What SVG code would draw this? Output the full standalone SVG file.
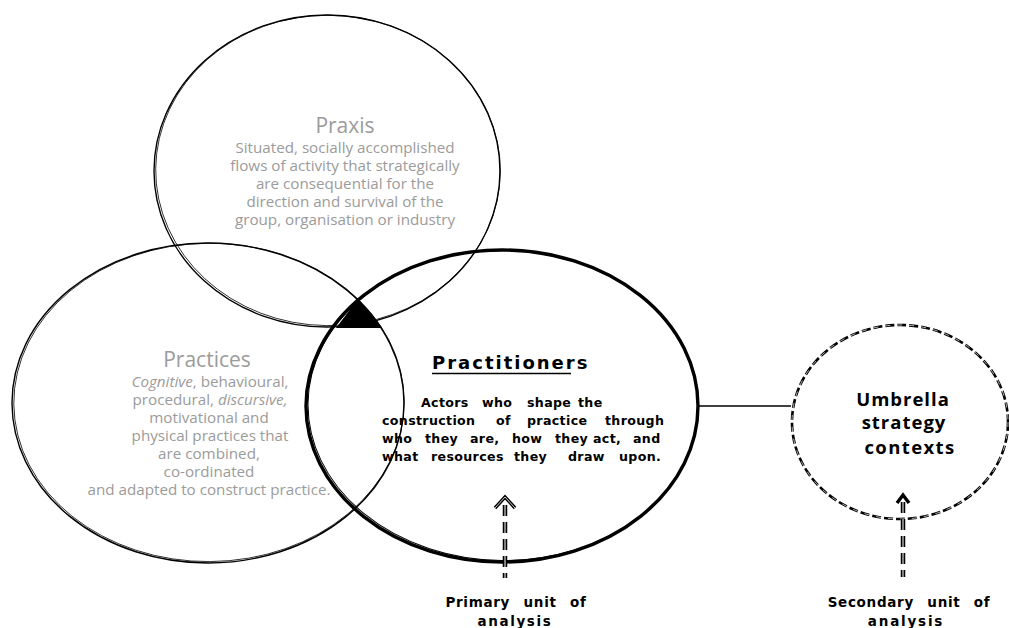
<svg xmlns="http://www.w3.org/2000/svg" width="1009" height="628" viewBox="0 0 1009 628">
  <style>
    .ring { fill: none; stroke: #000; }
    .thin { stroke-width: 1.4; }
    .thin2 { stroke-width: 0.8; }
    .grey { font-family: "Open Sans", "Liberation Sans", sans-serif; fill: #9b9b9b; text-anchor: middle; }
    .title { font-size: 21px; }
    .body { font-size: 15.2px; }
    .bold { font-family: "DejaVu Sans", "Verdana", sans-serif; font-weight: bold; fill: #000; }
    .desc { font-size: 12.6px; letter-spacing: 0.35px; }
    .label { font-family: "DejaVu Sans", "Verdana", sans-serif; font-weight: bold; fill: #000; text-anchor: middle; }
    .ctx { font-family: "Open Sans", "Liberation Sans", sans-serif; font-weight: bold; fill: #000; text-anchor: middle; font-size: 18.5px; }
    .dashline { fill: none; stroke: #000; stroke-width: 4.5; stroke-dasharray: 11 6; }
    .dashcore { fill: none; stroke: #fff; stroke-width: 1; stroke-dasharray: 11 6; }
    .head { fill: none; stroke: #000; stroke-width: 3.4; stroke-linejoin: miter; }
    .headcore { fill: none; stroke: #fff; stroke-width: 0.8; }
  </style>

  <rect width="1009" height="628" fill="#fff"/>

  <!-- Praxis -->
  <g id="praxis">
    <ellipse class="ring thin" cx="327" cy="171" rx="173" ry="156"/>
    <ellipse class="ring thin2" cx="328" cy="170.4" rx="172.3" ry="155.2" transform="rotate(0.6 327 171)"/>
    <text class="grey title" x="345" y="133">Praxis</text>
    <text class="grey body" x="345" y="153">Situated, socially accomplished</text>
    <text class="grey body" x="345" y="171">flows of activity that strategically</text>
    <text class="grey body" x="345" y="189">are consequential for the</text>
    <text class="grey body" x="345" y="207">direction and survival of the</text>
    <text class="grey body" x="345" y="225">group, organisation or industry</text>
  </g>

  <!-- Practices -->
  <g id="practices">
    <ellipse class="ring thin" cx="208" cy="403" rx="196" ry="160"/>
    <ellipse class="ring thin2" cx="209" cy="402.4" rx="195.2" ry="159.2" transform="rotate(-0.5 208 403)"/>
    <text class="grey title" x="207" y="367">Practices</text>
    <text class="grey body" x="210" y="387"><tspan font-style="italic">Cognitive</tspan>, behavioural,</text>
    <text class="grey body" x="210" y="405">procedural, <tspan font-style="italic">discursive,</tspan></text>
    <text class="grey body" x="209" y="423">motivational and</text>
    <text class="grey body" x="210" y="441">physical practices that</text>
    <text class="grey body" x="209" y="459">are combined,</text>
    <text class="grey body" x="209" y="477">co-ordinated</text>
    <text class="grey body" x="209" y="495">and adapted to construct practice.</text>
  </g>

  <!-- Practitioners -->
  <g id="practitioners">
    <ellipse class="ring" stroke-width="3.4" cx="502" cy="406" rx="196" ry="156"/>
    <ellipse class="ring" stroke-width="1" cx="503" cy="405.5" rx="195" ry="155" transform="rotate(0.7 502 406)"/>
    <text class="bold" x="432" y="369" font-size="18px" letter-spacing="2">Practitioners</text>
    <line x1="432" y1="373.5" x2="571" y2="373.5" stroke="#000" stroke-width="1.6"/>
    <text class="bold desc" y="407"><tspan x="421">Actors</tspan><tspan x="482">who</tspan><tspan x="527">shape</tspan><tspan x="578">the</tspan></text>
    <text class="bold desc" y="425"><tspan x="382">construction</tspan><tspan x="496">of</tspan><tspan x="527">practice</tspan><tspan x="605">through</tspan></text>
    <text class="bold desc" y="443"><tspan x="382">who</tspan><tspan x="425">they</tspan><tspan x="470">are,</tspan><tspan x="512">how</tspan><tspan x="555">they</tspan><tspan x="593">act,</tspan><tspan x="633">and</tspan></text>
    <text class="bold desc" y="461"><tspan x="382">what</tspan><tspan x="431">resources</tspan><tspan x="514">they</tspan><tspan x="568">draw</tspan><tspan x="619">upon.</tspan></text>
  </g>

  <!-- Umbrella strategy contexts -->
  <g id="umbrella">
    <ellipse class="ring" stroke-width="2.6" stroke-dasharray="9 3" cx="900" cy="422" rx="108" ry="97"/>
    <ellipse fill="none" stroke="#fff" stroke-width="0.7" stroke-dasharray="5 7" cx="900" cy="422" rx="108" ry="97"/>
    <text class="ctx" letter-spacing="1" x="903" y="406">Umbrella</text>
    <text class="ctx" letter-spacing="1" x="904" y="429">strategy</text>
    <text class="ctx" letter-spacing="1.4" x="910" y="454">contexts</text>
  </g>

  <!-- Intersection marker -->
  <g id="overlap">
    <polygon points="358,299 336,328 382,328" fill="#000"/>
  </g>

  <!-- Connectors -->
  <g id="connectors">
    <line x1="699" y1="406" x2="791" y2="406" stroke="#000" stroke-width="1.6"/>

    <line class="dashline" x1="505" y1="505" x2="505" y2="578"/>
    <line class="dashcore" x1="505" y1="505" x2="505" y2="578"/>
    <polyline class="head" points="495,508 505,497 515,508"/>
    <polyline class="headcore" points="495,508 505,497 515,508"/>

    <line class="dashline" x1="903" y1="502" x2="903" y2="577" stroke-width="4" stroke-dasharray="9 4"/>
    <line class="dashcore" x1="903" y1="502" x2="903" y2="577" stroke-dasharray="9 4"/>
    <polyline class="head" stroke-width="3" points="897,503 903,495 909,503"/>
  </g>

  <!-- Unit labels -->
  <g id="primary-label">
    <text class="label" font-size="13.5px" word-spacing="8" letter-spacing="0.7" x="516" y="607">Primary unit of</text>
    <text class="label" font-size="13.5px" letter-spacing="1.6" x="515" y="626">analysis</text>
  </g>
  <g id="secondary-label">
    <text class="label" font-size="13.5px" word-spacing="8" letter-spacing="0.7" x="909" y="607">Secondary unit of</text>
    <text class="label" font-size="13.5px" letter-spacing="1.8" x="906" y="626">analysis</text>
  </g>
</svg>
